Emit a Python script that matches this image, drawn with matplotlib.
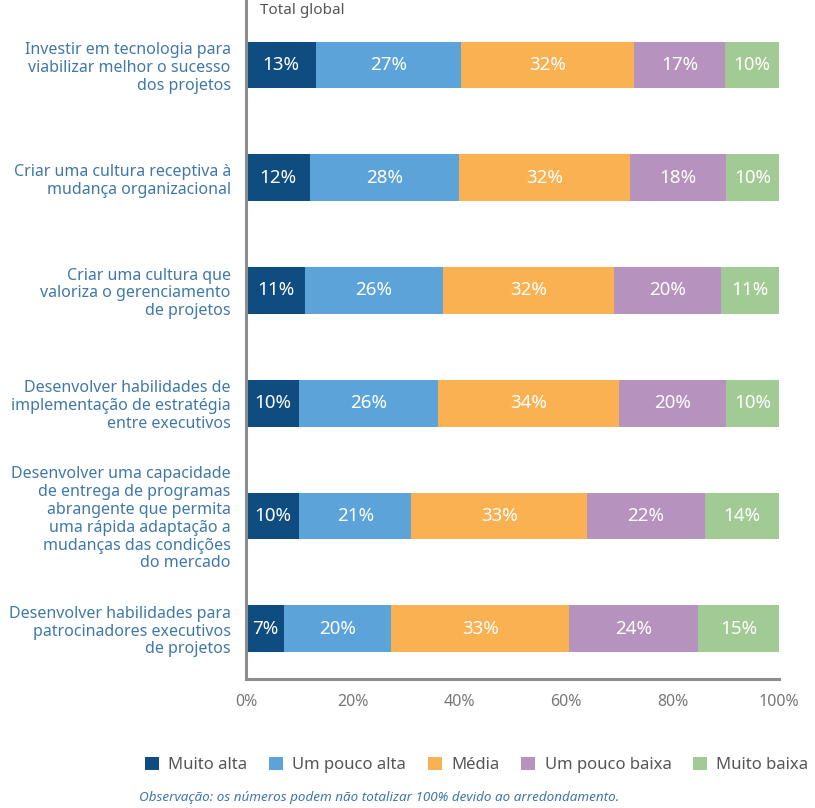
import matplotlib
matplotlib.use("Agg")
import matplotlib.pyplot as plt
import numpy as np
from matplotlib.patches import Patch

plt.rcParams['font.family'] = ['Noto Sans', 'DejaVu Sans']

categories = [
    "Investir em tecnologia para\nviabilizar melhor o sucesso\ndos projetos",
    "Criar uma cultura receptiva à\nmudança organizacional",
    "Criar uma cultura que\nvaloriza o gerenciamento\nde projetos",
    "Desenvolver habilidades de\nimplementação de estratégia\nentre executivos",
    "Desenvolver uma capacidade\nde entrega de programas\nabrangente que permita\numa rápida adaptação a\nmudanças das condições\ndo mercado",
    "Desenvolver habilidades para\npatrocinadores executivos\nde projetos",
]
series = ["Muito alta", "Um pouco alta", "Média", "Um pouco baixa", "Muito baixa"]
muito_alta = [13, 12, 11, 10, 10, 7]
pouco_alta = [27, 28, 26, 26, 21, 20]
media = [32, 32, 32, 34, 33, 33]
pouco_baixa = [17, 18, 20, 20, 22, 24]
muito_baixa = [10, 10, 11, 10, 14, 15]
xticks = [0, 20, 40, 60, 80, 100]
xticklabels = ["0%", "20%", "40%", "60%", "80%", "100%"]

colors = ["#0f4c7f", "#5ba3d9", "#f9b151", "#b692be", "#a2ca94"]
label_color = "#3f78a9"
gray = "#8c8c8c"

values = np.array([muito_alta, pouco_alta, media, pouco_baixa, muito_baixa], dtype=float)
totals = values.sum(axis=0)
shares = values / totals * 100

fig = plt.figure(figsize=(8.15, 8.08), dpi=100)
ax = fig.add_axes([0.302, 0.160, 0.654, 0.840])

y = np.arange(len(categories))
left = np.zeros(len(categories))
for i, s in enumerate(series):
    ax.barh(y, shares[i], left=left, height=0.415, color=colors[i], label=s)
    for j in range(len(categories)):
        ax.text(left[j] + shares[i][j] / 2, y[j], f"{int(values[i][j])}%",
                ha="center", va="center", color="white", fontsize=13.5)
    left += shares[i]

ax.set_xlim(0, 100)
ax.set_ylim(5.443, -0.576)
ax.set_yticks(y)
ax.set_yticklabels(categories, fontsize=11.5, color=label_color, linespacing=1.15)
ax.set_xticks(xticks)
ax.set_xticklabels(xticklabels, fontsize=11.5, color="#777777")
ax.tick_params(axis="both", length=0)
ax.tick_params(axis="y", pad=11)
ax.tick_params(axis="x", pad=11)
for sp in ["top", "right"]:
    ax.spines[sp].set_visible(False)
for sp in ["left", "bottom"]:
    ax.spines[sp].set_color(gray)
    ax.spines[sp].set_linewidth(2.2)

fig.text(260 / 815, 1 - 11 / 808, "Total global", fontsize=11, color="#555555",
         ha="left", va="center")

handles = [Patch(facecolor=c, edgecolor="none") for c in colors]
fig.legend(handles, series, loc="center", bbox_to_anchor=(0.585, 1 - 765 / 808),
           ncol=5, frameon=False, fontsize=12, handlelength=0.85, handleheight=0.85,
           handletextpad=0.55, columnspacing=1.3, labelcolor="#555555")

fig.text(379 / 815, 1 - 798 / 808,
         "Observação: os números podem não totalizar 100% devido ao arredondamento.",
         fontsize=9.7, style="italic", color=label_color, ha="center", va="center")

fig.savefig("out.png", dpi=100)
